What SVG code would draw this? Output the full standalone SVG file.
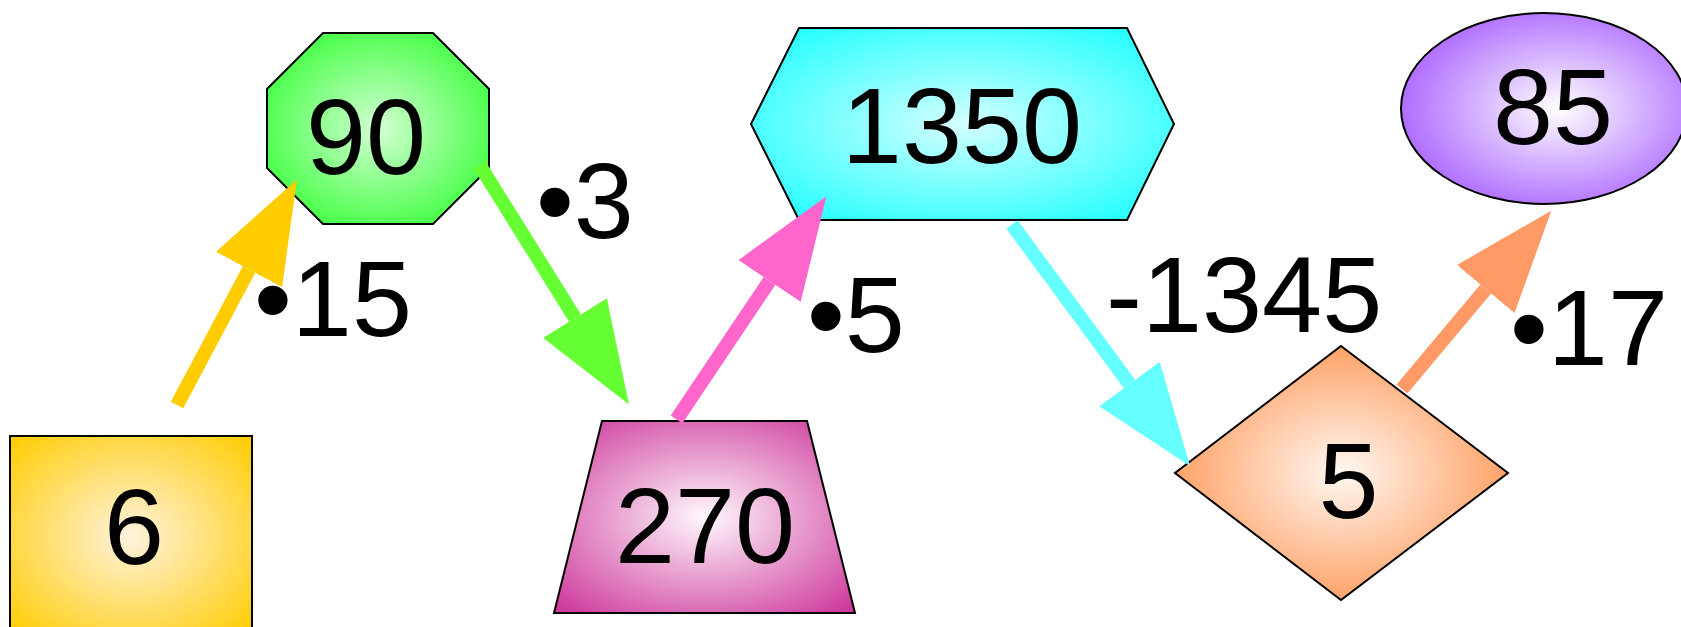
<svg xmlns="http://www.w3.org/2000/svg" width="1681" height="627" viewBox="0 0 1681 627">
<defs>
<style>
.node{stroke:#000;stroke-width:2}
.t{font-family:"Liberation Sans",Arial,sans-serif;font-size:108px;fill:#000}
.c{text-anchor:middle}
.e{fill:none;stroke-width:14;stroke-linecap:butt}
</style>
<radialGradient id="gY" cx="0.5" cy="0.5" r="0.7"><stop offset="0" stop-color="#FFF3DF"/><stop offset="1" stop-color="#FFCC00"/></radialGradient>
<radialGradient id="gG" cx="0.5" cy="0.5" r="0.7"><stop offset="0" stop-color="#D4FFD4"/><stop offset="1" stop-color="#22FF22"/></radialGradient>
<radialGradient id="gC" cx="0.5" cy="0.5" r="0.7"><stop offset="0" stop-color="#D4FFFF"/><stop offset="1" stop-color="#11FFFF"/></radialGradient>
<radialGradient id="gP" cx="0.5" cy="0.5" r="0.7"><stop offset="0" stop-color="#FFF8FC"/><stop offset="1" stop-color="#CC3399"/></radialGradient>
<radialGradient id="gO" cx="0.5" cy="0.5" r="0.7"><stop offset="0" stop-color="#FFF8F2"/><stop offset="1" stop-color="#FF8030"/></radialGradient>
<radialGradient id="gV" cx="0.55" cy="0.5" r="0.7"><stop offset="0" stop-color="#FFFFFF"/><stop offset="1" stop-color="#9944FF"/></radialGradient>
<marker id="mY" markerUnits="userSpaceOnUse" viewBox="0 0 102 75" markerWidth="102" markerHeight="75" refX="0" refY="37.5" orient="auto"><path d="M0,0 L102,37.5 L0,75 z" fill="#FFCC00"/></marker>
<marker id="mG" markerUnits="userSpaceOnUse" viewBox="0 0 102 75" markerWidth="102" markerHeight="75" refX="0" refY="37.5" orient="auto"><path d="M0,0 L102,37.5 L0,75 z" fill="#66FF33"/></marker>
<marker id="mP" markerUnits="userSpaceOnUse" viewBox="0 0 102 75" markerWidth="102" markerHeight="75" refX="0" refY="37.5" orient="auto"><path d="M0,0 L102,37.5 L0,75 z" fill="#FF66CC"/></marker>
<marker id="mC" markerUnits="userSpaceOnUse" viewBox="0 0 102 75" markerWidth="102" markerHeight="75" refX="0" refY="37.5" orient="auto"><path d="M0,0 L102,37.5 L0,75 z" fill="#66FFFF"/></marker>
<marker id="mO" markerUnits="userSpaceOnUse" viewBox="0 0 102 75" markerWidth="102" markerHeight="75" refX="0" refY="37.5" orient="auto"><path d="M0,0 L102,37.5 L0,75 z" fill="#FF9966"/></marker>
</defs>
<rect width="1681" height="627" fill="#fff"/>
<g id="node-6">
<rect class="node" x="10" y="436" width="242" height="200" fill="url(#gY)"/>
<text class="t c" x="134" y="564">6</text>
</g>
<g id="node-90">
<polygon class="node" points="323,33 433,33 489,89 489,168 433,224 323,224 267,168 267,89" fill="url(#gG)"/>
<text class="t c" x="366" y="174">90</text>
</g>
<g id="node-270">
<polygon class="node" points="602,421 807,421 855,613 554,613" fill="url(#gP)"/>
<text class="t c" x="705" y="563">270</text>
</g>
<g id="node-1350">
<polygon class="node" points="799,28 1127,28 1174,124 1127,220 799,220 751,124" fill="url(#gC)"/>
<text class="t c" x="962" y="163">1350</text>
</g>
<g id="node-5">
<polygon class="node" points="1341,346 1508,473 1341,600 1175,473" fill="url(#gO)"/>
<text class="t c" x="1348.5" y="518">5</text>
</g>
<g id="node-85">
<ellipse class="node" cx="1544" cy="108.5" rx="143" ry="95.5" fill="url(#gV)"/>
<text class="t c" x="1553" y="144">85</text>
</g>
<g id="connectors">
<line class="e" x1="177" y1="405" x2="249" y2="269.5" stroke="#FFCC00" marker-end="url(#mY)"/>
<line class="e" x1="479.5" y1="165" x2="575" y2="318" stroke="#66FF33" marker-end="url(#mG)"/>
<line class="e" x1="676.5" y1="419.5" x2="769.5" y2="281" stroke="#FF66CC" marker-end="url(#mP)"/>
<line class="e" x1="1012" y1="224.5" x2="1129.5" y2="384" stroke="#66FFFF" marker-end="url(#mC)"/>
<line class="e" x1="1402" y1="389" x2="1485.75" y2="289" stroke="#FF9966" marker-end="url(#mO)"/>
<text class="t" x="254" y="336">•15</text>
<text class="t" x="536" y="238">•3</text>
<text class="t" x="807" y="352">•5</text>
<text class="t" x="1106" y="332">-1345</text>
<text class="t" x="1510" y="365">•17</text>
</g>
</svg>
